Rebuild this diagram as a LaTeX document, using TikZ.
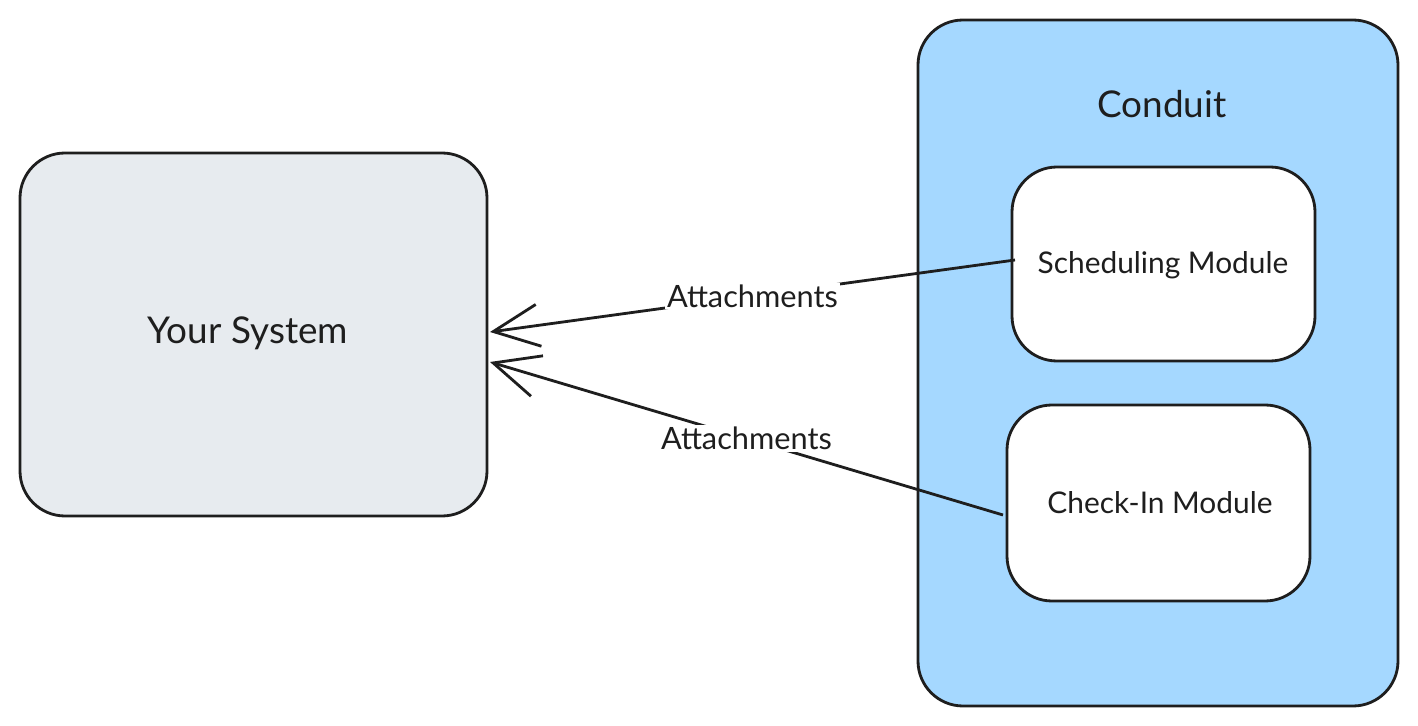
\documentclass[tikz,border=0pt]{standalone}
\usepackage{fontspec}
\setmainfont{Lato}
\usetikzlibrary{arrows.meta}
\definecolor{sysgrey}{HTML}{E7EBEF}
\definecolor{condblue}{HTML}{A5D8FF}
\definecolor{ink}{HTML}{1E1E1E}
\begin{document}
\begin{tikzpicture}[x=0.02cm, y=-0.02cm,
    box/.style={draw=ink, line width=1.6pt, rounded corners=0.9cm},
    link/.style={draw=ink, line width=1.6pt, -{Straight Barb[length=26pt,width=24pt,line width=1.6pt]}},
    tag/.style={fill=white, inner sep=1pt, text=ink, font=\fontsize{17.5}{20}\selectfont}]
    \useasboundingbox (0,0) rectangle (1418,726);

    % Boxes
    \filldraw[box, fill=sysgrey] (20,153) rectangle (487,516);
    \node[text=ink, font=\fontsize{21}{24}\selectfont] (sys) at (248,333) {Your System};
    \coordinate (sysA) at (490,332);
    \coordinate (sysB) at (490,362);

    \filldraw[box, fill=condblue] (918,20) rectangle (1398,706);
    \node[text=ink, font=\fontsize{21}{24}\selectfont] (cond) at (1162,104) {Conduit};

    \filldraw[box, fill=white] (1012,167) rectangle (1315,361);
    \node[text=ink, font=\fontsize{17}{20}\selectfont] (sched) at (1163,265) {Scheduling Module};
    \filldraw[box, fill=white] (1007,405) rectangle (1310,601);
    \node[text=ink, font=\fontsize{17}{20}\selectfont] (check) at (1160,503) {Check-In Module};
    \coordinate (schedW) at (1015,260);
    \coordinate (checkW) at (1003,515);

    % Connectors
    \draw[link] (schedW) -- node[tag, pos=0.5] {Attachments} (sysA);
    \draw[link] (checkW) -- node[tag, pos=0.5] {Attachments} (sysB);
\end{tikzpicture}
\end{document}
